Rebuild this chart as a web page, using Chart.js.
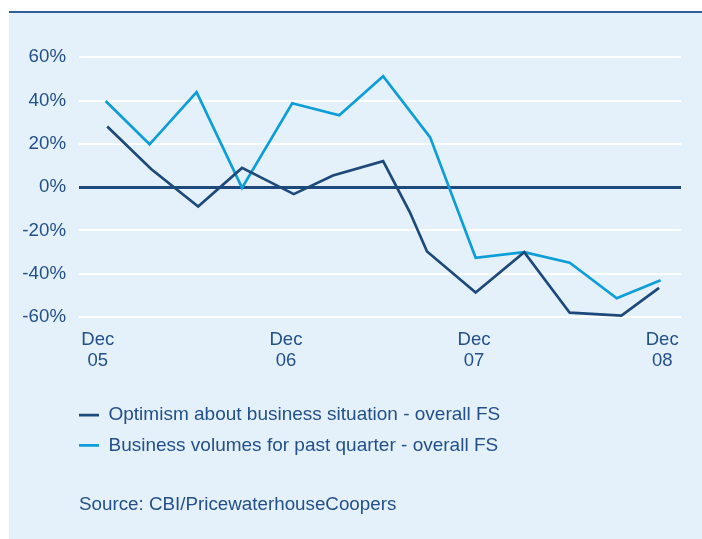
<!DOCTYPE html>
<html>
<head>
<meta charset="utf-8">
<title>CBI/PwC FS survey</title>
<script src="https://cdn.jsdelivr.net/npm/chart.js@4.4.0/dist/chart.umd.min.js"></script>
<style>
  html, body { margin: 0; padding: 0; background: #ffffff; }
  #box {
    position: absolute; left: 9px; top: 11px;
    width: 693px; height: 526px;
    background: #e4f1fa;
    border-top: 2px solid #2f5f96;
  }
  canvas { display: block; }
</style>
</head>
<body>
<div id="box"><canvas id="chart" width="693" height="526"></canvas></div>
<script>
// months after Dec 05
var optimismMonths = [0.6, 3.4, 6.4, 9.2, 12.5, 15.0, 18.2, 19.9, 21.0, 24.1, 27.2, 30.1, 33.4, 35.8];
var optimismValues = [28, 8.4, -8.9, 8.9, -3.2, 5.4, 12, -11.5, -29.7, -48.7, -30, -58, -59.3, -46.5];

var volumeMonths = [0.5, 3.3, 6.3, 9.2, 12.4, 15.4, 18.2, 21.2, 24.1, 27.2, 30.1, 33.1, 35.9];
var volumeValues = [39.8, 19.8, 43.9, -0.3, 38.8, 33.2, 51.3, 23, -32.6, -30, -34.9, -51.3, -43];

var tickMonths = [0, 12, 24, 36];
var tickLabels = [['Dec', '05'], ['Dec', '06'], ['Dec', '07'], ['Dec', '08']];

var seriesNames = ['Optimism about business situation - overall FS', 'Business volumes for past quarter - overall FS'];

var navy = '#1d4a7b';
var cyan = '#0d9dd9';
var textColor = '#23508a';
var fontFamily = '"Liberation Sans", Arial, sans-serif';
var tickFont = { family: fontFamily, size: 18.7 };
var legendPad = 11.3;

function points(xs, ys) {
	var out = [];
	for (var i = 0; i < xs.length; i++) out.push({ x: xs[i], y: ys[i] });
	return out;
}

// legend items start flush with the plot's left edge
var legendIndent = {
	id: 'legendIndent',
	afterLayout: function (chart) {
		chart.legend.left = chart.chartArea.left - legendPad;
		chart.legend.right = chart.chartArea.right - legendPad;
	}
};

var ctx = document.getElementById('chart');
var myChart = new Chart(ctx,
{
	type: 'line',
	data:
	{
		datasets:
		[{
			label: seriesNames[0],
			data: points(optimismMonths, optimismValues),
			borderColor: navy,
			backgroundColor: navy,
			borderWidth: 2.7,
			pointRadius: 0,
			tension: 0
		},
		{
			label: seriesNames[1],
			data: points(volumeMonths, volumeValues),
			borderColor: cyan,
			backgroundColor: cyan,
			borderWidth: 2.7,
			pointRadius: 0,
			tension: 0
		}]
	},
	plugins: [legendIndent],
	options:
	{
		responsive: false,
		animation: false,
		layout: { padding: { top: 44.3, left: 0, right: 21, bottom: 22.9 } },
		plugins:
		{
			tooltip: { enabled: false },
			legend:
			{
				position: 'bottom',
				align: 'start',
				fullSize: false,
				labels:
				{
					color: textColor,
					font: { family: fontFamily, size: 19 },
					usePointStyle: true,
					pointStyle: 'line',
					pointStyleWidth: 20,
					padding: legendPad
				}
			},
			title:
			{
				display: true,
				text: 'Source: CBI/PricewaterhouseCoopers',
				position: 'bottom',
				align: 'start',
				fullSize: false,
				color: textColor,
				font: { family: fontFamily, size: 18.8, weight: 'normal' },
				padding: { top: 28.6, bottom: 0 }
			}
		},
		scales:
		{
			x:
			{
				type: 'linear',
				min: -1.2,
				max: 37.2,
				grid: { display: false, drawTicks: false },
				border: { display: false },
				afterBuildTicks: function (scale) {
					scale.ticks = tickMonths.map(function (m) { return { value: m }; });
				},
				afterFit: function (scale) { scale.height = 77.3; },
				ticks:
				{
					color: textColor,
					font: { family: fontFamily, size: 18.5, lineHeight: 21 / 18.5 },
					padding: 12.8,
					maxRotation: 0,
					autoSkip: false,
					callback: function (value) {
						var i = tickMonths.indexOf(value);
						return i < 0 ? '' : tickLabels[i];
					}
				}
			},
			y:
			{
				min: -60,
				max: 60,
				border: { display: false },
				afterFit: function (scale) { scale.width = 70; },
				grid:
				{
					drawTicks: false,
					color: function (c) { return c.tick.value === 0 ? navy : '#ffffff'; },
					lineWidth: function (c) { return c.tick.value === 0 ? 3 : 2; }
				},
				ticks:
				{
					stepSize: 20,
					color: textColor,
					font: tickFont,
					padding: 13,
					callback: function (v) { return v + '%'; }
				}
			}
		}
	}
});
</script>
</body>
</html>
